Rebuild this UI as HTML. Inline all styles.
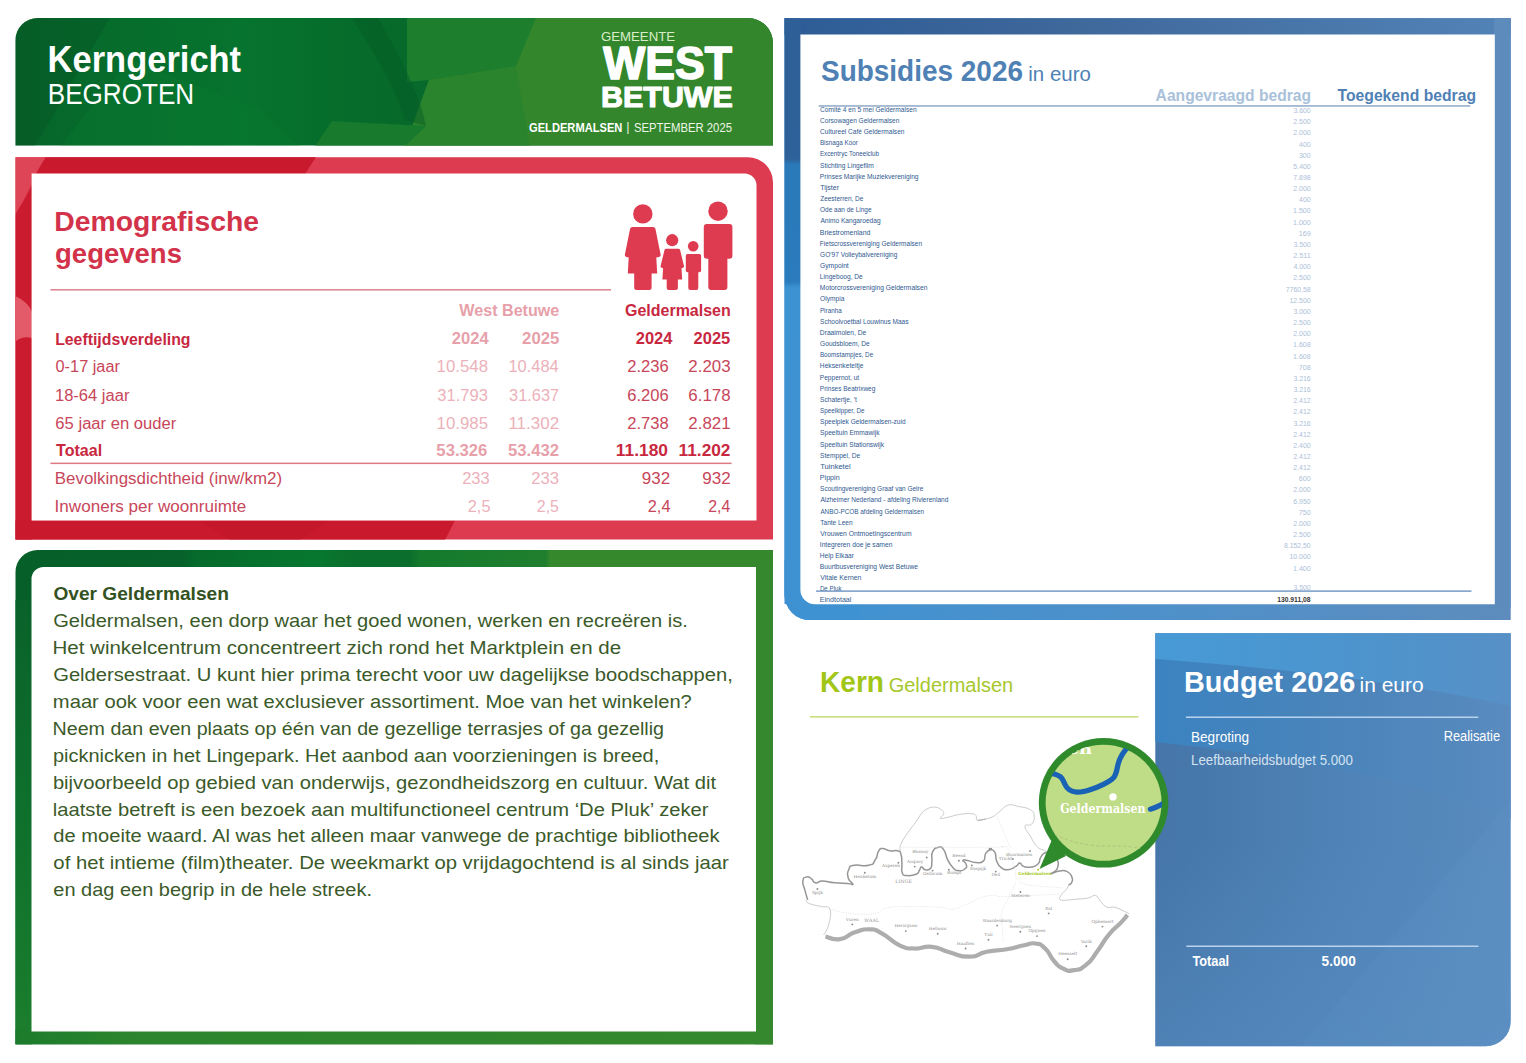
<!DOCTYPE html>
<html lang="nl"><head><meta charset="utf-8"><title>Kerngericht begroten - Geldermalsen</title>
<style>
html,body{margin:0;padding:0;background:#fff;}
body{width:1526px;height:1063px;overflow:hidden;}
svg{display:block;font-family:"Liberation Sans", Arial, sans-serif;}
text{white-space:pre;}
</style></head><body>
<svg width="1526" height="1063" viewBox="0 0 1526 1063">
<defs>
<linearGradient id="gHead" x1="0" y1="0" x2="1" y2="0">
 <stop offset="0" stop-color="#076429"/><stop offset="0.1" stop-color="#066b2c"/><stop offset="0.3" stop-color="#06732e"/><stop offset="0.45" stop-color="#066c2b"/><stop offset="0.52" stop-color="#07692b"/><stop offset="1" stop-color="#07692b"/>
</linearGradient>
<linearGradient id="gGreen2" x1="0" y1="0" x2="1" y2="0">
 <stop offset="0" stop-color="#065f28"/><stop offset="0.22" stop-color="#06622a"/><stop offset="0.24" stop-color="#066b2c"/><stop offset="0.4" stop-color="#07772f"/><stop offset="0.45" stop-color="#0a6e2c"/><stop offset="0.52" stop-color="#0b6e2c"/><stop offset="0.535" stop-color="#157a2d"/><stop offset="0.70" stop-color="#1f7f2e"/><stop offset="0.706" stop-color="#36882d"/><stop offset="1" stop-color="#36882d"/>
</linearGradient>
<linearGradient id="gGreenL" x1="0" y1="0" x2="0" y2="1">
 <stop offset="0" stop-color="#09622a"/><stop offset="0.5" stop-color="#0f702c"/><stop offset="1" stop-color="#1c7e2d"/>
</linearGradient>
<linearGradient id="gGreenB" x1="0" y1="0" x2="1" y2="0">
 <stop offset="0" stop-color="#1b7b2c"/><stop offset="0.15" stop-color="#2c852d"/><stop offset="1" stop-color="#35882d"/>
</linearGradient>
<linearGradient id="gBlueT" x1="0" y1="0" x2="1" y2="0">
 <stop offset="0" stop-color="#2d5c96"/><stop offset="0.4" stop-color="#3f689b"/><stop offset="1" stop-color="#5283b7"/>
</linearGradient>
<linearGradient id="gBlueL" x1="0" y1="0" x2="0" y2="1">
 <stop offset="0" stop-color="#2f5f97"/><stop offset="0.24" stop-color="#2e6199"/><stop offset="0.25" stop-color="#2a79b9"/><stop offset="0.45" stop-color="#2b7cbc"/><stop offset="0.46" stop-color="#3d92d2"/><stop offset="1" stop-color="#3f92d2"/>
</linearGradient>
<linearGradient id="gBlueB" x1="0" y1="0" x2="1" y2="0">
 <stop offset="0" stop-color="#3f92d2"/><stop offset="0.55" stop-color="#4f90c9"/><stop offset="1" stop-color="#5d8cbd"/>
</linearGradient>
<linearGradient id="gBud" x1="0" y1="0" x2="1" y2="0">
 <stop offset="0" stop-color="#4575a9"/><stop offset="0.5" stop-color="#4f82b6"/><stop offset="1" stop-color="#598bbf"/>
</linearGradient>
<linearGradient id="gBudV" x1="0" y1="0" x2="0" y2="1">
 <stop offset="0" stop-color="#5a90c4" stop-opacity="0"/><stop offset="0.5" stop-color="#5a90c4" stop-opacity="0"/><stop offset="1" stop-color="#5a90c4" stop-opacity=".45"/>
</linearGradient>
<linearGradient id="gBud1" x1="0" y1="0" x2="1" y2="0">
 <stop offset="0" stop-color="#479ad6"/><stop offset="0.5" stop-color="#4c95cf"/><stop offset="1" stop-color="#5790c6"/>
</linearGradient>
<linearGradient id="gBud2" x1="0" y1="0" x2="1" y2="0">
 <stop offset="0" stop-color="#3b83c1"/><stop offset="0.5" stop-color="#4a84ba"/><stop offset="1" stop-color="#598bbf"/>
</linearGradient>
<clipPath id="cHead"><path d="M15.5 145.5V40a22 22 0 0 1 22-22H748a25 25 0 0 1 25 25V145.5Z"/></clipPath>
<clipPath id="cRed"><path d="M15.5 157.3H748a25 25 0 0 1 25 25V539.5H15.5Z"/></clipPath>
<clipPath id="cMag"><circle cx="1103.6" cy="802.8" r="58.5"/></clipPath>
<clipPath id="cBud"><path d="M1155.3 633.3H1510.7V1021a25 25 0 0 1 -25 25.3H1155.3Z"/></clipPath>
</defs>
<g clip-path="url(#cHead)">
<rect x="15" y="18" width="759" height="128" fill="url(#gHead)"/>
<polygon points="15,18 110,18 35,146 15,146" fill="#054f23" opacity=".35"/>
<polygon points="60,146 130,60 260,110 300,146" fill="#0c7a32" opacity=".35"/>
<polygon points="407,18 540,18 516,66 429,80 407,82" fill="#1d7e2e"/>
<polygon points="536,18 773,18 773,146 405,146 429,80 516,66" fill="#34862c"/>
<polygon points="429,80 516,66 530,146 405,146" fill="#2a842d"/>
<polygon points="315,146 332,121 426,126 405,146" fill="#177a2c"/>
<path d="M352 18C372 50 398 90 404 120L426 126C420 92 396 50 378 18Z" fill="#045a26" opacity=".45"/>
</g>
<text x="47.59" y="71.5" font-size="37.06" fill="#fff" font-weight="700" textLength="193.53" lengthAdjust="spacingAndGlyphs">Kerngericht</text>
<text x="47.76" y="104.4" font-size="28.63" fill="#fff" textLength="146.37" lengthAdjust="spacingAndGlyphs">BEGROTEN</text>
<text x="601.04" y="41.0" font-size="12.79" fill="#d9edc9" textLength="74.03" lengthAdjust="spacingAndGlyphs">GEMEENTE</text>
<text x="603.36" y="79.3" font-size="45.93" fill="#fff" font-weight="700" textLength="128.52" lengthAdjust="spacingAndGlyphs" stroke="#fff" stroke-width="1.6" stroke-linejoin="round">WEST</text>
<text x="601.06" y="106.8" font-size="29.51" fill="#fff" font-weight="700" textLength="131.82" lengthAdjust="spacingAndGlyphs" stroke="#fff" stroke-width="1.1" stroke-linejoin="round">BETUWE</text>
<text x="529.04" y="131.6" font-size="12.65" fill="#fff" font-weight="700" textLength="93.31" lengthAdjust="spacingAndGlyphs">GELDERMALSEN</text>
<text x="626.30" y="131.4" font-size="12.65" fill="#e8f3e0">|</text>
<text x="633.99" y="131.6" font-size="12.65" fill="#eef6e8" textLength="97.99" lengthAdjust="spacingAndGlyphs">SEPTEMBER 2025</text>
<g clip-path="url(#cRed)">
<rect x="15" y="157" width="759" height="383" fill="#dc3b50"/>
<polygon points="44,157 316,157 305,174 31,174" fill="#c9192d"/>
<path d="M15 157H46C36 172 30 185 24 200L15 215Z" fill="#de4557"/>
<polygon points="15,215 24,200 32,185 32,540 15,540" fill="#cb1b2f"/>
<path d="M15 296C24 300 30 306 32 312V338C26 336 19 338 15 342Z" fill="#e35a68"/>
<polygon points="15,520.6 455,520.6 445,540 15,540" fill="#c9192d"/>
<polygon points="200,520.6 330,520.6 300,540 230,540" fill="#c21528" opacity=".6"/>
</g>
<path d="M31.6 173.6H744.5a12 12 0 0 1 12 12V520.6H31.6Z" fill="#fff"/>
<text x="54.30" y="230.6" font-size="28.34" fill="#d2334a" font-weight="700" textLength="204.66" lengthAdjust="spacingAndGlyphs">Demografische</text>
<text x="55.07" y="263.0" font-size="28.34" fill="#d2334a" font-weight="700" textLength="126.86" lengthAdjust="spacingAndGlyphs">gegevens</text>
<rect x="50.4" y="289" width="560.6" height="1.6" fill="#dd8a94"/>
<g fill="#de3a50">
<circle cx="642.8" cy="213.9" r="9.7"/>
<path d="M632.5 226.9H653a2.5 2.5 0 0 1 2.4 1.8L660.6 254.5a2 2 0 0 1 -1.5 2.4L656.3 257.6 657.2 273.5H651.6V287.5a2.5 2.5 0 0 1 -2.5 2.5H636.7a2.5 2.5 0 0 1 -2.5 -2.5V273.5H627.8L628.7 257.6 626.4 256.9a2 2 0 0 1 -1.5 -2.4L630.1 228.7a2.5 2.5 0 0 1 2.4 -1.8Z"/>
<circle cx="672.2" cy="240.2" r="6.1"/>
<path d="M666.2 248.7H678.4a1.8 1.8 0 0 1 1.7 1.3L684 266a1.5 1.5 0 0 1 -1 1.8L681.5 268.2 682.2 279.4H677.9V288a2 2 0 0 1 -2 2H668.7a2 2 0 0 1 -2 -2V279.4H662.4L663.1 268.2 661.6 267.8a1.5 1.5 0 0 1 -1 -1.8L664.5 250a1.8 1.8 0 0 1 1.7 -1.3Z"/>
<circle cx="693.2" cy="246.3" r="5.3"/>
<path d="M687.6 254H699.3a1.8 1.8 0 0 1 1.8 1.8V270.5a1.8 1.8 0 0 1 -1.8 1.8H698.3V288a2 2 0 0 1 -2 2H690.3a2 2 0 0 1 -2 -2V272.3H687.6a1.8 1.8 0 0 1 -1.8 -1.8V255.8a1.8 1.8 0 0 1 1.8 -1.8Z"/>
<circle cx="718" cy="211.2" r="9.7"/>
<path d="M706.8 223.9H729.4a3 3 0 0 1 3 3V255.7a3 3 0 0 1 -3 3H727.4V287a3 3 0 0 1 -3 3H711.3a3 3 0 0 1 -3 -3V258.7H706.8a3 3 0 0 1 -3 -3V226.9a3 3 0 0 1 3 -3Z"/>
</g>
<text x="459.28" y="316.2" font-size="16.28" fill="#e79fa9" font-weight="700" textLength="100.07" lengthAdjust="spacingAndGlyphs">West Betuwe</text>
<text x="624.94" y="316.2" font-size="16.28" fill="#c8283f" font-weight="700" textLength="105.85" lengthAdjust="spacingAndGlyphs">Geldermalsen</text>
<text x="55.14" y="344.5" font-size="16.28" fill="#c8283f" font-weight="700" textLength="135.42" lengthAdjust="spacingAndGlyphs">Leeftijdsverdeling</text>
<text x="451.83" y="344.2" font-size="16.28" fill="#e79fa9" font-weight="700" textLength="36.76" lengthAdjust="spacingAndGlyphs">2024</text>
<text x="522.12" y="344.2" font-size="16.28" fill="#e79fa9" font-weight="700" textLength="37.14" lengthAdjust="spacingAndGlyphs">2025</text>
<text x="635.73" y="344.2" font-size="16.28" fill="#c8283f" font-weight="700" textLength="36.66" lengthAdjust="spacingAndGlyphs">2024</text>
<text x="693.63" y="344.2" font-size="16.28" fill="#c8283f" font-weight="700" textLength="36.63" lengthAdjust="spacingAndGlyphs">2025</text>
<text x="55.56" y="372.4" font-size="15.84" fill="#c8465a" textLength="64.41" lengthAdjust="spacingAndGlyphs">0-17 jaar</text>
<text x="436.62" y="372.4" font-size="15.84" fill="#ecb1ba" textLength="51.41" lengthAdjust="spacingAndGlyphs">10.548</text>
<text x="508.45" y="372.4" font-size="15.84" fill="#ecb1ba" textLength="50.34" lengthAdjust="spacingAndGlyphs">10.484</text>
<text x="627.27" y="372.4" font-size="15.84" fill="#c8465a" textLength="41.46" lengthAdjust="spacingAndGlyphs">2.236</text>
<text x="688.35" y="372.4" font-size="15.84" fill="#c8465a" textLength="42.19" lengthAdjust="spacingAndGlyphs">2.203</text>
<text x="54.94" y="400.5" font-size="15.84" fill="#c8465a" textLength="74.54" lengthAdjust="spacingAndGlyphs">18-64 jaar</text>
<text x="437.27" y="400.5" font-size="15.84" fill="#ecb1ba" textLength="50.76" lengthAdjust="spacingAndGlyphs">31.793</text>
<text x="509.08" y="400.5" font-size="15.84" fill="#ecb1ba" textLength="50.05" lengthAdjust="spacingAndGlyphs">31.637</text>
<text x="627.26" y="400.5" font-size="15.84" fill="#c8465a" textLength="41.47" lengthAdjust="spacingAndGlyphs">6.206</text>
<text x="688.34" y="400.5" font-size="15.84" fill="#c8465a" textLength="42.19" lengthAdjust="spacingAndGlyphs">6.178</text>
<text x="55.36" y="428.6" font-size="15.84" fill="#c8465a" textLength="120.92" lengthAdjust="spacingAndGlyphs">65 jaar en ouder</text>
<text x="436.62" y="428.6" font-size="15.84" fill="#ecb1ba" textLength="51.39" lengthAdjust="spacingAndGlyphs">10.985</text>
<text x="508.44" y="428.6" font-size="15.84" fill="#ecb1ba" textLength="50.70" lengthAdjust="spacingAndGlyphs">11.302</text>
<text x="627.27" y="428.6" font-size="15.84" fill="#c8465a" textLength="41.45" lengthAdjust="spacingAndGlyphs">2.738</text>
<text x="688.35" y="428.6" font-size="15.84" fill="#c8465a" textLength="42.27" lengthAdjust="spacingAndGlyphs">2.821</text>
<text x="56.02" y="456.2" font-size="16.28" fill="#c8283f" font-weight="700" textLength="46.08" lengthAdjust="spacingAndGlyphs">Totaal</text>
<text x="436.39" y="456.2" font-size="16.28" fill="#e79fa9" font-weight="700" textLength="51.02" lengthAdjust="spacingAndGlyphs">53.326</text>
<text x="507.99" y="456.2" font-size="16.28" fill="#e79fa9" font-weight="700" textLength="50.98" lengthAdjust="spacingAndGlyphs">53.432</text>
<text x="615.83" y="456.2" font-size="16.28" fill="#c8283f" font-weight="700" textLength="52.17" lengthAdjust="spacingAndGlyphs">11.180</text>
<text x="678.63" y="456.2" font-size="16.28" fill="#c8283f" font-weight="700" textLength="51.85" lengthAdjust="spacingAndGlyphs">11.202</text>
<text x="54.81" y="484.0" font-size="15.84" fill="#c8465a" textLength="227.33" lengthAdjust="spacingAndGlyphs">Bevolkingsdichtheid (inw/km2)</text>
<text x="462.17" y="484.0" font-size="15.84" fill="#ecb1ba" textLength="27.56" lengthAdjust="spacingAndGlyphs">233</text>
<text x="531.16" y="484.0" font-size="15.84" fill="#ecb1ba" textLength="27.87" lengthAdjust="spacingAndGlyphs">233</text>
<text x="641.80" y="484.0" font-size="15.84" fill="#c8465a" textLength="28.35" lengthAdjust="spacingAndGlyphs">932</text>
<text x="702.20" y="484.0" font-size="15.84" fill="#c8465a" textLength="28.46" lengthAdjust="spacingAndGlyphs">932</text>
<text x="54.63" y="512.0" font-size="15.84" fill="#c8465a" textLength="191.53" lengthAdjust="spacingAndGlyphs">Inwoners per woonruimte</text>
<text x="467.78" y="512.0" font-size="15.84" fill="#ecb1ba" textLength="22.71" lengthAdjust="spacingAndGlyphs">2,5</text>
<text x="536.80" y="512.0" font-size="15.84" fill="#ecb1ba" textLength="22.17" lengthAdjust="spacingAndGlyphs">2,5</text>
<text x="647.78" y="512.0" font-size="15.84" fill="#c8465a" textLength="22.70" lengthAdjust="spacingAndGlyphs">2,4</text>
<text x="708.20" y="512.0" font-size="15.84" fill="#c8465a" textLength="22.06" lengthAdjust="spacingAndGlyphs">2,4</text>
<rect x="50.4" y="462.6" width="681.2" height="1.5" fill="#dd7a86"/>
<path d="M15.5 1044.3V572a22 22 0 0 1 22 -22H773V1044.3Z" fill="url(#gGreen2)"/>
<rect x="15.5" y="600" width="16.5" height="444.3" fill="url(#gGreenL)"/>
<rect x="15.5" y="1030" width="757.5" height="14.3" fill="url(#gGreenB)"/>
<rect x="755" y="566" width="18" height="478.3" fill="#35882d"/>
<path d="M31.5 1031.5V579a12 12 0 0 1 12 -12H756V1031.5Z" fill="#fff"/>
<text x="53.42" y="600.3" font-size="18.02" fill="#33521f" font-weight="700" textLength="175.47" lengthAdjust="spacingAndGlyphs">Over Geldermalsen</text>
<text x="53.19" y="627.4" font-size="18.02" fill="#3b5a2a" textLength="634.65" lengthAdjust="spacingAndGlyphs">Geldermalsen, een dorp waar het goed wonen, werken en recreëren is.</text>
<text x="52.52" y="654.3" font-size="18.02" fill="#3b5a2a" textLength="568.59" lengthAdjust="spacingAndGlyphs">Het winkelcentrum concentreert zich rond het Marktplein en de</text>
<text x="53.19" y="681.2" font-size="18.02" fill="#3b5a2a" textLength="679.63" lengthAdjust="spacingAndGlyphs">Geldersestraat. U kunt hier prima terecht voor uw dagelijkse boodschappen,</text>
<text x="52.86" y="708.0" font-size="18.02" fill="#3b5a2a" textLength="638.99" lengthAdjust="spacingAndGlyphs">maar ook voor een wat exclusiever assortiment. Moe van het winkelen?</text>
<text x="52.59" y="734.9" font-size="18.02" fill="#3b5a2a" textLength="611.38" lengthAdjust="spacingAndGlyphs">Neem dan even plaats op één van de gezellige terrasjes of ga gezellig</text>
<text x="52.91" y="761.8" font-size="18.02" fill="#3b5a2a" textLength="606.38" lengthAdjust="spacingAndGlyphs">picknicken in het Lingepark. Het aanbod aan voorzieningen is breed,</text>
<text x="52.90" y="788.7" font-size="18.02" fill="#3b5a2a" textLength="663.24" lengthAdjust="spacingAndGlyphs">bijvoorbeeld op gebied van onderwijs, gezondheidszorg en cultuur. Wat dit</text>
<text x="52.84" y="815.6" font-size="18.02" fill="#3b5a2a" textLength="655.69" lengthAdjust="spacingAndGlyphs">laatste betreft is een bezoek aan multifunctioneel centrum ‘De Pluk’ zeker</text>
<text x="53.36" y="842.4" font-size="18.02" fill="#3b5a2a" textLength="666.21" lengthAdjust="spacingAndGlyphs">de moeite waard. Al was het alleen maar vanwege de prachtige bibliotheek</text>
<text x="53.35" y="869.3" font-size="18.02" fill="#3b5a2a" textLength="675.39" lengthAdjust="spacingAndGlyphs">of het intieme (film)theater. De weekmarkt op vrijdagochtend is al sinds jaar</text>
<text x="53.35" y="896.2" font-size="18.02" fill="#3b5a2a" textLength="318.67" lengthAdjust="spacingAndGlyphs">en dag een begrip in de hele streek.</text>
<path d="M784.5 18.2H1510.7V620.1H810a25.5 25.5 0 0 1 -25.5 -25.5Z" fill="url(#gBlueB)"/>
<rect x="784.5" y="18.2" width="726.2" height="17" fill="url(#gBlueT)"/>
<path d="M784.5 18.2H801V604H784.5Z" fill="url(#gBlueL)"/>
<path d="M784.5 560V594.6a25.5 25.5 0 0 0 25.5 25.5H860V600H801V560Z" fill="#3f92d2"/>
<rect x="1494" y="18.2" width="16.7" height="590" fill="#5d8bbb"/>
<path d="M800.4 34.4H1494.8V604.3H815a14.6 14.6 0 0 1 -14.6 -14.6Z" fill="#fff"/>
<text x="820.99" y="80.5" font-size="29.07" fill="#4f81b5" font-weight="700" textLength="202.02" lengthAdjust="spacingAndGlyphs">Subsidies 2026</text>
<text x="1028.33" y="80.5" font-size="19.60" fill="#4f81b5" textLength="62.53" lengthAdjust="spacingAndGlyphs">in euro</text>
<text x="1155.61" y="100.7" font-size="15.84" fill="#a9c1da" font-weight="700" textLength="155.43" lengthAdjust="spacingAndGlyphs">Aangevraagd bedrag</text>
<text x="1337.53" y="100.7" font-size="15.84" fill="#4f81b5" font-weight="700" textLength="138.52" lengthAdjust="spacingAndGlyphs">Toegekend bedrag</text>
<rect x="818.6" y="105.2" width="651.7" height="1.5" fill="#8ea9c7"/>
<text x="820.06" y="111.7" font-size="6.60" fill="#2f598f" textLength="96.56" lengthAdjust="spacingAndGlyphs">Comité 4 en 5 mei Geldermalsen</text>
<text x="1293.40" y="113.0" font-size="6.70" fill="#abc0d9" textLength="17.27" lengthAdjust="spacingAndGlyphs">3.600</text>
<text x="820.07" y="122.9" font-size="6.60" fill="#2f598f" textLength="79.26" lengthAdjust="spacingAndGlyphs">Corsowagen Geldermalsen</text>
<text x="1293.31" y="124.2" font-size="6.70" fill="#abc0d9" textLength="17.36" lengthAdjust="spacingAndGlyphs">2.500</text>
<text x="820.07" y="134.0" font-size="6.60" fill="#2f598f" textLength="84.36" lengthAdjust="spacingAndGlyphs">Cultureel Café Geldermalsen</text>
<text x="1293.31" y="135.3" font-size="6.70" fill="#abc0d9" textLength="17.36" lengthAdjust="spacingAndGlyphs">2.000</text>
<text x="819.88" y="145.2" font-size="6.60" fill="#2f598f" textLength="38.02" lengthAdjust="spacingAndGlyphs">Bisnaga Koor</text>
<text x="1299.08" y="146.5" font-size="6.70" fill="#abc0d9" textLength="11.59" lengthAdjust="spacingAndGlyphs">400</text>
<text x="819.89" y="156.3" font-size="6.60" fill="#2f598f" textLength="59.17" lengthAdjust="spacingAndGlyphs">Excentryc Toneelclub</text>
<text x="1298.97" y="157.6" font-size="6.70" fill="#abc0d9" textLength="11.70" lengthAdjust="spacingAndGlyphs">300</text>
<text x="820.10" y="167.5" font-size="6.60" fill="#2f598f" textLength="53.64" lengthAdjust="spacingAndGlyphs">Stichting Lingefilm</text>
<text x="1293.38" y="168.8" font-size="6.70" fill="#abc0d9" textLength="17.29" lengthAdjust="spacingAndGlyphs">5.400</text>
<text x="819.86" y="178.7" font-size="6.60" fill="#2f598f" textLength="98.67" lengthAdjust="spacingAndGlyphs">Prinses Marijke Muziekvereniging</text>
<text x="1293.30" y="180.0" font-size="6.70" fill="#abc0d9" textLength="17.40" lengthAdjust="spacingAndGlyphs">7.898</text>
<text x="820.25" y="189.8" font-size="6.60" fill="#2f598f" textLength="18.77" lengthAdjust="spacingAndGlyphs">Tijster</text>
<text x="1293.31" y="191.1" font-size="6.70" fill="#abc0d9" textLength="17.36" lengthAdjust="spacingAndGlyphs">2.000</text>
<text x="820.19" y="201.0" font-size="6.60" fill="#2f598f" textLength="43.19" lengthAdjust="spacingAndGlyphs">Zeesterren, De</text>
<text x="1299.08" y="202.3" font-size="6.70" fill="#abc0d9" textLength="11.59" lengthAdjust="spacingAndGlyphs">400</text>
<text x="820.09" y="212.1" font-size="6.60" fill="#2f598f" textLength="51.49" lengthAdjust="spacingAndGlyphs">Ode aan de Linge</text>
<text x="1293.13" y="213.4" font-size="6.70" fill="#abc0d9" textLength="17.55" lengthAdjust="spacingAndGlyphs">1.500</text>
<text x="820.39" y="223.3" font-size="6.60" fill="#2f598f" textLength="60.24" lengthAdjust="spacingAndGlyphs">Animo Kangaroedag</text>
<text x="1293.13" y="224.6" font-size="6.70" fill="#abc0d9" textLength="17.55" lengthAdjust="spacingAndGlyphs">1.000</text>
<text x="819.83" y="234.5" font-size="6.60" fill="#2f598f" textLength="50.62" lengthAdjust="spacingAndGlyphs">Briestromenland</text>
<text x="1298.69" y="235.8" font-size="6.70" fill="#abc0d9" textLength="12.05" lengthAdjust="spacingAndGlyphs">169</text>
<text x="819.86" y="245.6" font-size="6.60" fill="#2f598f" textLength="102.26" lengthAdjust="spacingAndGlyphs">Fietscrossvereniging Geldermalsen</text>
<text x="1293.40" y="246.9" font-size="6.70" fill="#abc0d9" textLength="17.27" lengthAdjust="spacingAndGlyphs">3.500</text>
<text x="820.07" y="256.8" font-size="6.60" fill="#2f598f" textLength="77.25" lengthAdjust="spacingAndGlyphs">GO'97 Volleybalvereniging</text>
<text x="1293.31" y="258.1" font-size="6.70" fill="#abc0d9" textLength="17.43" lengthAdjust="spacingAndGlyphs">2.511</text>
<text x="820.06" y="267.9" font-size="6.60" fill="#2f598f" textLength="28.69" lengthAdjust="spacingAndGlyphs">Gympoint</text>
<text x="1293.50" y="269.2" font-size="6.70" fill="#abc0d9" textLength="17.17" lengthAdjust="spacingAndGlyphs">4.000</text>
<text x="819.86" y="279.1" font-size="6.60" fill="#2f598f" textLength="42.93" lengthAdjust="spacingAndGlyphs">Lingeboog, De</text>
<text x="1293.31" y="280.4" font-size="6.70" fill="#abc0d9" textLength="17.36" lengthAdjust="spacingAndGlyphs">2.500</text>
<text x="819.85" y="290.3" font-size="6.60" fill="#2f598f" textLength="107.58" lengthAdjust="spacingAndGlyphs">Motorcrossvereniging Geldermalsen</text>
<text x="1285.87" y="291.6" font-size="6.70" fill="#abc0d9" textLength="24.83" lengthAdjust="spacingAndGlyphs">7760,58</text>
<text x="820.09" y="301.4" font-size="6.60" fill="#2f598f" textLength="24.31" lengthAdjust="spacingAndGlyphs">Olympia</text>
<text x="1289.41" y="302.7" font-size="6.70" fill="#abc0d9" textLength="21.26" lengthAdjust="spacingAndGlyphs">12.500</text>
<text x="819.88" y="312.6" font-size="6.60" fill="#2f598f" textLength="21.92" lengthAdjust="spacingAndGlyphs">Piranha</text>
<text x="1293.40" y="313.9" font-size="6.70" fill="#abc0d9" textLength="17.27" lengthAdjust="spacingAndGlyphs">3.000</text>
<text x="820.10" y="323.7" font-size="6.60" fill="#2f598f" textLength="88.43" lengthAdjust="spacingAndGlyphs">Schoolvoetbal Louwinus Maas</text>
<text x="1293.31" y="325.0" font-size="6.70" fill="#abc0d9" textLength="17.36" lengthAdjust="spacingAndGlyphs">2.500</text>
<text x="819.85" y="334.9" font-size="6.60" fill="#2f598f" textLength="46.45" lengthAdjust="spacingAndGlyphs">Draaimolen, De</text>
<text x="1293.31" y="336.2" font-size="6.70" fill="#abc0d9" textLength="17.36" lengthAdjust="spacingAndGlyphs">2.000</text>
<text x="820.07" y="346.1" font-size="6.60" fill="#2f598f" textLength="49.63" lengthAdjust="spacingAndGlyphs">Goudsbloem, De</text>
<text x="1293.12" y="347.4" font-size="6.70" fill="#abc0d9" textLength="17.58" lengthAdjust="spacingAndGlyphs">1.608</text>
<text x="819.88" y="357.2" font-size="6.60" fill="#2f598f" textLength="53.30" lengthAdjust="spacingAndGlyphs">Boomstampjes, De</text>
<text x="1293.12" y="358.5" font-size="6.70" fill="#abc0d9" textLength="17.58" lengthAdjust="spacingAndGlyphs">1.608</text>
<text x="819.86" y="368.4" font-size="6.60" fill="#2f598f" textLength="43.54" lengthAdjust="spacingAndGlyphs">Heksenketeltje</text>
<text x="1298.88" y="369.7" font-size="6.70" fill="#abc0d9" textLength="11.83" lengthAdjust="spacingAndGlyphs">708</text>
<text x="819.86" y="379.5" font-size="6.60" fill="#2f598f" textLength="39.28" lengthAdjust="spacingAndGlyphs">Peppernot, ut</text>
<text x="1293.40" y="380.8" font-size="6.70" fill="#abc0d9" textLength="17.31" lengthAdjust="spacingAndGlyphs">3.216</text>
<text x="819.87" y="390.7" font-size="6.60" fill="#2f598f" textLength="55.45" lengthAdjust="spacingAndGlyphs">Prinses Beatrixweg</text>
<text x="1293.40" y="392.0" font-size="6.70" fill="#abc0d9" textLength="17.31" lengthAdjust="spacingAndGlyphs">3.216</text>
<text x="820.10" y="401.9" font-size="6.60" fill="#2f598f" textLength="36.75" lengthAdjust="spacingAndGlyphs">Schatertje, 't</text>
<text x="1293.31" y="403.2" font-size="6.70" fill="#abc0d9" textLength="17.44" lengthAdjust="spacingAndGlyphs">2.412</text>
<text x="820.12" y="413.0" font-size="6.60" fill="#2f598f" textLength="44.36" lengthAdjust="spacingAndGlyphs">Speelkipper, De</text>
<text x="1293.31" y="414.3" font-size="6.70" fill="#abc0d9" textLength="17.44" lengthAdjust="spacingAndGlyphs">2.412</text>
<text x="820.10" y="424.2" font-size="6.60" fill="#2f598f" textLength="85.52" lengthAdjust="spacingAndGlyphs">Speelplek Geldermalsen-zuid</text>
<text x="1293.40" y="425.5" font-size="6.70" fill="#abc0d9" textLength="17.31" lengthAdjust="spacingAndGlyphs">3.216</text>
<text x="820.10" y="435.3" font-size="6.60" fill="#2f598f" textLength="59.39" lengthAdjust="spacingAndGlyphs">Speeltuin Emmawijk</text>
<text x="1293.31" y="436.6" font-size="6.70" fill="#abc0d9" textLength="17.44" lengthAdjust="spacingAndGlyphs">2.412</text>
<text x="820.10" y="446.5" font-size="6.60" fill="#2f598f" textLength="63.99" lengthAdjust="spacingAndGlyphs">Speeltuin Stationswijk</text>
<text x="1293.31" y="447.8" font-size="6.70" fill="#abc0d9" textLength="17.36" lengthAdjust="spacingAndGlyphs">2.400</text>
<text x="820.10" y="457.7" font-size="6.60" fill="#2f598f" textLength="39.99" lengthAdjust="spacingAndGlyphs">Stemppel, De</text>
<text x="1293.31" y="459.0" font-size="6.70" fill="#abc0d9" textLength="17.44" lengthAdjust="spacingAndGlyphs">2.412</text>
<text x="820.23" y="468.8" font-size="6.60" fill="#2f598f" textLength="30.37" lengthAdjust="spacingAndGlyphs">Tuinketel</text>
<text x="1293.31" y="470.1" font-size="6.70" fill="#abc0d9" textLength="17.44" lengthAdjust="spacingAndGlyphs">2.412</text>
<text x="819.81" y="480.0" font-size="6.60" fill="#2f598f" textLength="19.85" lengthAdjust="spacingAndGlyphs">Pippin</text>
<text x="1298.88" y="481.3" font-size="6.70" fill="#abc0d9" textLength="11.80" lengthAdjust="spacingAndGlyphs">600</text>
<text x="820.11" y="491.1" font-size="6.60" fill="#2f598f" textLength="103.18" lengthAdjust="spacingAndGlyphs">Scoutingvereniging Graaf van Gelre</text>
<text x="1293.31" y="492.4" font-size="6.70" fill="#abc0d9" textLength="17.36" lengthAdjust="spacingAndGlyphs">2.000</text>
<text x="820.39" y="502.3" font-size="6.60" fill="#2f598f" textLength="127.93" lengthAdjust="spacingAndGlyphs">Alzheimer Nederland - afdeling Rivierenland</text>
<text x="1293.31" y="503.6" font-size="6.70" fill="#abc0d9" textLength="17.36" lengthAdjust="spacingAndGlyphs">6.950</text>
<text x="820.39" y="513.5" font-size="6.60" fill="#2f598f" textLength="103.63" lengthAdjust="spacingAndGlyphs">ANBO-PCOB afdeling Geldermalsen</text>
<text x="1298.88" y="514.8" font-size="6.70" fill="#abc0d9" textLength="11.80" lengthAdjust="spacingAndGlyphs">750</text>
<text x="820.26" y="524.6" font-size="6.60" fill="#2f598f" textLength="32.26" lengthAdjust="spacingAndGlyphs">Tante Leen</text>
<text x="1293.31" y="525.9" font-size="6.70" fill="#abc0d9" textLength="17.36" lengthAdjust="spacingAndGlyphs">2.000</text>
<text x="820.37" y="535.8" font-size="6.60" fill="#2f598f" textLength="91.17" lengthAdjust="spacingAndGlyphs">Vrouwen Ontmoetingscentrum</text>
<text x="1293.31" y="537.1" font-size="6.70" fill="#abc0d9" textLength="17.36" lengthAdjust="spacingAndGlyphs">2.500</text>
<text x="819.78" y="546.9" font-size="6.60" fill="#2f598f" textLength="72.65" lengthAdjust="spacingAndGlyphs">Integreren doe je samen</text>
<text x="1284.06" y="548.2" font-size="6.70" fill="#abc0d9" textLength="26.60" lengthAdjust="spacingAndGlyphs">8.152,50</text>
<text x="819.86" y="558.1" font-size="6.60" fill="#2f598f" textLength="34.05" lengthAdjust="spacingAndGlyphs">Help Elkaar</text>
<text x="1289.41" y="559.4" font-size="6.70" fill="#abc0d9" textLength="21.26" lengthAdjust="spacingAndGlyphs">10.000</text>
<text x="819.86" y="569.3" font-size="6.60" fill="#2f598f" textLength="98.04" lengthAdjust="spacingAndGlyphs">Buurtbusvereniging West Betuwe</text>
<text x="1293.13" y="570.6" font-size="6.70" fill="#abc0d9" textLength="17.55" lengthAdjust="spacingAndGlyphs">1.400</text>
<text x="820.37" y="580.4" font-size="6.60" fill="#2f598f" textLength="41.07" lengthAdjust="spacingAndGlyphs">Vitale Kernen</text>
<text x="819.89" y="591.0" font-size="6.60" fill="#2f598f" textLength="21.70" lengthAdjust="spacingAndGlyphs">De Pluk</text>
<text x="1293.40" y="589.9" font-size="6.70" fill="#abc0d9" textLength="17.27" lengthAdjust="spacingAndGlyphs">3.500</text>
<text x="819.82" y="602.1" font-size="6.60" fill="#2f598f" textLength="31.56" lengthAdjust="spacingAndGlyphs">Eindtotaal</text>
<text x="1277.28" y="601.8" font-size="6.60" fill="#333" font-weight="700" textLength="33.32" lengthAdjust="spacingAndGlyphs">130.911,08</text>
<rect x="816.1" y="590.4" width="655.4" height="1.4" fill="#6f95c3"/>
<text x="820.02" y="691.9" font-size="29.07" fill="#a2c617" font-weight="700" textLength="63.92" lengthAdjust="spacingAndGlyphs">Kern</text>
<text x="888.69" y="691.9" font-size="19.91" fill="#a6c72c" textLength="124.50" lengthAdjust="spacingAndGlyphs">Geldermalsen</text>
<rect x="810" y="716" width="328.5" height="1.6" fill="#c9de7c"/>
<path d="M807.5 899.3C806.7 896.5 806.3 895.6 804.9 890.1C803.5 884.5 802.3 884.8 802.9 880.8C803.5 876.9 804.3 877.5 806.8 876.9C809.4 876.3 808.9 877.1 811.5 878.9C814.0 880.7 812.1 882.2 815.4 882.8C818.8 883.5 816.9 881.1 822.6 881.1C828.4 881.1 827.0 882.1 834.5 882.8C842.0 883.5 842.1 883.1 847.7 883.5C853.2 883.9 852.7 885.7 852.9 884.1C853.1 882.6 849.5 882.8 848.3 878.2C847.1 873.7 847.2 872.9 849.0 869.0C850.8 865.1 848.3 866.4 854.2 865.3C860.2 864.2 862.4 867.0 868.7 865.3C875.1 863.7 872.4 864.0 875.3 859.8C878.3 855.6 876.4 854.6 878.6 851.2C880.8 847.9 879.2 848.7 882.6 848.6C885.9 848.5 885.3 850.2 889.8 850.8C894.3 851.5 894.3 849.7 897.7 850.8C901.1 851.9 899.7 850.6 901.0 854.5C902.3 858.4 901.5 858.2 901.9 863.7C902.3 869.3 900.8 869.4 902.3 872.9C903.8 876.5 902.8 875.2 906.9 875.6C911.1 876.0 912.4 875.8 916.1 874.3C919.9 872.7 917.8 872.5 919.4 870.3C921.0 868.1 919.6 867.2 921.4 867.0C923.2 866.8 922.6 869.3 925.3 869.7C928.1 870.1 928.6 870.9 930.6 868.3C932.6 865.8 931.3 866.0 931.9 861.1C932.5 856.2 930.6 856.0 932.6 851.9C934.6 847.7 935.2 847.9 938.5 847.3C941.9 846.7 941.0 846.2 943.8 849.9C946.5 853.7 945.0 854.5 947.7 859.8C950.5 865.1 949.8 864.4 953.0 867.7C956.2 870.9 954.7 870.2 958.3 870.6C961.8 871.0 962.5 870.9 964.8 869.0C967.2 867.1 966.8 867.0 966.2 864.4C965.6 861.8 962.5 861.6 962.9 860.4C963.3 859.3 963.7 859.8 967.5 860.4C971.2 861.0 970.6 862.2 975.4 862.4C980.1 862.6 980.1 863.9 983.3 861.1C986.4 858.3 983.5 856.8 985.9 853.2C988.3 849.6 990.1 850.4 991.2 849.2C992.3 848.1 988.4 848.5 989.5 849.2C990.6 850.0 992.6 848.3 994.7 851.9C996.9 855.4 994.7 856.4 996.7 861.1C998.7 865.8 998.0 865.1 1001.3 867.7C1004.7 870.3 1003.6 870.1 1007.9 869.7C1012.3 869.3 1012.3 868.3 1015.8 866.4C1019.4 864.4 1017.4 863.1 1019.8 863.1C1022.1 863.1 1020.2 865.2 1023.7 866.4C1027.3 867.6 1027.3 867.8 1031.6 867.0C1036.0 866.2 1035.4 866.7 1038.2 863.7C1041.0 860.8 1038.5 860.5 1040.8 857.1C1043.2 853.8 1042.5 853.3 1046.1 852.5C1049.7 851.8 1049.3 852.3 1052.7 854.5C1056.0 856.7 1055.7 856.2 1057.3 859.8C1058.9 863.3 1058.5 863.0 1057.9 866.4C1057.4 869.7 1057.3 868.8 1055.3 871.0C1053.3 873.1 1050.2 873.6 1051.4 873.6C1052.6 873.6 1054.5 871.6 1059.3 871.0C1064.0 870.4 1063.4 869.9 1067.2 871.6C1070.9 873.4 1070.4 873.7 1071.8 876.9C1073.2 880.1 1072.6 879.8 1071.8 882.2C1071.0 884.5 1069.9 884.0 1069.1 884.8" fill="none" stroke="#969696" stroke-width="1.5" stroke-linejoin="round" stroke-linecap="round"/>
<path d="M900.3 850.8C900.5 849.2 899.1 848.3 901.0 844.0C902.8 839.6 904.7 837.4 908.2 832.1C911.8 826.9 913.1 825.9 916.1 821.6C919.2 817.3 918.9 816.6 921.4 813.7C923.9 810.8 923.6 810.6 926.7 809.1C929.7 807.6 931.2 807.0 934.6 807.1C937.9 807.3 939.0 808.2 941.1 809.7C943.3 811.3 943.9 811.7 943.8 813.7C943.6 815.7 939.3 817.5 940.5 818.3C941.7 819.1 944.6 817.9 949.0 817.0C953.5 816.1 954.4 815.1 959.6 814.4C964.8 813.6 967.6 813.4 971.4 813.7C975.3 814.0 974.7 814.1 976.0 815.7C977.4 817.2 975.1 819.5 977.4 820.3C979.7 821.1 985.9 819.0 985.9 819.0C986.0 819.0 976.5 820.6 977.6 820.3C978.8 820.0 985.9 819.5 990.8 817.6C995.7 815.8 994.7 815.3 998.7 812.4C1002.7 809.5 1003.3 806.5 1007.9 805.1C1012.5 803.8 1013.2 805.4 1018.4 806.5C1023.7 807.5 1026.6 807.4 1030.3 809.7C1034.0 812.1 1033.9 813.0 1034.2 816.3C1034.6 819.7 1033.8 821.9 1031.6 824.2C1029.5 826.5 1025.3 823.4 1025.0 826.2C1024.7 829.0 1027.5 831.3 1030.3 836.1C1033.1 840.8 1033.5 843.2 1036.9 846.6C1040.3 850.0 1042.5 849.2 1044.8 850.6C1047.1 851.9 1046.3 852.1 1046.8 852.5" fill="none" stroke="#b5b5b5" stroke-width="0.7"/>
<path d="M807.5 899.3C807.4 899.9 805.8 900.7 806.8 901.9C807.9 903.1 808.7 903.5 812.1 904.5C815.5 905.6 817.2 905.4 821.3 906.5C825.5 907.6 828.2 904.9 829.9 909.2C831.6 913.4 830.1 918.9 828.6 924.9C827.2 930.8 824.8 932.5 823.6 934.8" fill="none" stroke="#b5b5b5" stroke-width="0.7"/>
<path d="M1069.1 884.8C1068.5 885.9 1067.3 888.2 1065.8 890.1C1064.4 891.9 1063.0 892.0 1061.9 894.0C1060.8 896.0 1057.9 898.9 1060.6 899.9C1063.2 901.0 1069.5 899.7 1075.1 899.3C1080.6 898.9 1084.2 898.8 1088.2 898.0C1092.3 897.2 1093.1 894.8 1095.5 895.3C1097.8 895.9 1097.8 898.2 1100.1 900.6C1102.3 903.0 1103.8 905.9 1106.7 907.2C1109.6 908.5 1111.1 906.4 1114.6 907.2C1118.0 908.0 1120.9 909.8 1123.8 911.1C1126.7 912.4 1128.0 913.2 1129.0 913.8" fill="none" stroke="#b5b5b5" stroke-width="0.7"/>
<path d="M825.4 936.6C829.7 937.3 831.0 940.3 839.8 939.1C848.6 937.8 845.8 935.2 854.8 932.3C863.7 929.4 861.5 929.0 869.7 929.3C877.9 929.7 873.2 928.8 882.2 933.6C891.1 938.4 889.9 940.8 899.6 945.3C909.3 949.8 904.8 948.1 914.5 948.5C924.2 949.0 921.5 945.7 932.0 946.8C942.4 947.9 938.2 949.3 949.4 952.3C960.6 955.2 958.1 956.9 969.3 956.7C980.5 956.6 975.5 954.0 986.7 951.8C997.9 949.5 995.4 951.2 1006.7 949.3C1017.9 947.3 1015.5 947.0 1024.1 945.3C1032.7 943.6 1028.9 942.6 1035.3 943.5C1041.6 944.5 1039.6 943.3 1045.2 948.5C1050.9 953.7 1048.7 955.0 1054.0 961.0C1059.2 966.9 1056.7 965.7 1062.7 968.4C1068.7 971.2 1066.8 971.3 1073.9 970.2C1081.0 969.1 1079.2 970.5 1086.3 964.7C1093.4 958.9 1090.8 960.0 1097.5 951.0C1104.3 942.0 1101.6 943.4 1108.7 934.8C1115.8 926.2 1115.6 928.3 1121.2 922.4C1126.8 916.4 1125.6 917.1 1127.4 914.9" fill="none" stroke="#adadad" stroke-width="4.2" stroke-linecap="butt"/>
<path d="M830.5 909.2C834.5 910.1 837.5 912.0 847.7 913.1C857.8 914.2 864.8 915.0 874.0 913.8C883.2 912.5 877.9 909.5 887.2 907.8C896.4 906.2 901.2 906.7 913.5 906.5C925.8 906.4 930.6 906.6 939.8 907.2C949.0 907.8 946.9 909.8 953.0 909.2C959.1 908.5 959.4 907.3 966.2 904.5C972.9 901.8 975.2 899.5 982.0 897.3C988.7 895.2 990.5 895.5 995.0 895.3C999.5 895.2 992.2 896.6 1001.3 896.6C1010.5 896.6 1020.4 895.9 1034.2 895.3C1048.1 894.7 1054.4 894.3 1060.6 894.0" fill="none" stroke="#dcdcdc" stroke-width="0.6" stroke-dasharray="1 0.8"/>
<path d="M901.6 847.3C917.2 847.3 978.4 847.4 995.0 847.3C1011.6 847.2 999.2 846.4 1001.3 846.6C1003.5 846.8 1005.7 844.9 1007.9 848.6C1010.1 852.3 1013.0 863.8 1014.5 869.0C1016.0 874.2 1014.9 876.9 1017.1 879.5C1019.3 882.2 1022.6 883.6 1027.7 884.8C1032.7 886.0 1041.5 886.2 1047.4 886.8C1053.3 887.3 1060.6 887.9 1063.2 888.1" fill="none" stroke="#dcdcdc" stroke-width="0.6" stroke-dasharray="1 0.8"/>
<path d="M996.7 816.3C999.0 821.6 1008.2 842.7 1010.5 847.9" fill="none" stroke="#dcdcdc" stroke-width="0.6" stroke-dasharray="1 0.8"/>
<path d="M1015.8 882.2C1014.2 885.6 1010.8 893.0 1007.9 899.3C1005.0 905.6 1002.4 907.6 1001.3 913.8C1000.3 919.9 1002.3 924.3 1002.6 930.0C1003.0 935.7 1002.9 939.8 1002.9 942.3" fill="none" stroke="#dcdcdc" stroke-width="0.6" stroke-dasharray="1 0.8"/>
<g font-family='"DejaVu Serif", "Liberation Serif", serif' font-size="4.3" fill="#909090" text-anchor="middle">
<circle cx="817.4" cy="889.0" r="0.95" fill="#8c8c8c"/><text x="817.4" y="893.6">Spijk</text>
<circle cx="864.8" cy="872.7" r="0.95" fill="#8c8c8c"/><text x="864.8" y="877.7">Heukelum</text>
<circle cx="898.4" cy="862.7" r="0.95" fill="#8c8c8c"/><text x="891.1" y="867.2">Asperen</text>
<circle cx="914.8" cy="866.6" r="0.95" fill="#8c8c8c"/><text x="915.1" y="863.2">Acquoy</text>
<circle cx="926.7" cy="857.5" r="0.95" fill="#8c8c8c"/><text x="920.3" y="853.2">Rhenoy</text>
<circle cx="932.6" cy="870.6" r="0.95" fill="#8c8c8c"/><text x="932.6" y="875.1">Gellicum</text>
<circle cx="948.8" cy="869.8" r="0.95" fill="#8c8c8c"/><text x="954.3" y="874.3">Rumpt</text>
<circle cx="958.9" cy="860.8" r="0.95" fill="#8c8c8c"/><text x="958.9" y="856.9">Beesd</text>
<circle cx="971.8" cy="865.4" r="0.95" fill="#8c8c8c"/><text x="978.0" y="870.4">Enspijk</text>
<circle cx="1012.9" cy="858.9" r="0.95" fill="#8c8c8c"/><text x="1005.3" y="859.5">Tricht</text>
<circle cx="1030.0" cy="851.0" r="0.95" fill="#8c8c8c"/><text x="1019.1" y="855.8">Buurmalsen</text>
<circle cx="995.8" cy="871.6" r="0.95" fill="#8c8c8c"/><text x="995.8" y="876.4">Deil</text>
<circle cx="1020.4" cy="892.0" r="0.95" fill="#8c8c8c"/><text x="1020.4" y="897.0">Meteren</text>
<circle cx="1048.7" cy="913.4" r="0.95" fill="#8c8c8c"/><text x="1048.7" y="909.7">Est</text>
<circle cx="852.3" cy="924.4" r="0.95" fill="#8c8c8c"/><text x="852.3" y="920.9">Vuren</text>
<circle cx="905.8" cy="931.1" r="0.95" fill="#8c8c8c"/><text x="905.8" y="927.4">Herwijnen</text>
<circle cx="937.7" cy="933.8" r="0.95" fill="#8c8c8c"/><text x="937.7" y="929.6">Hellouw</text>
<circle cx="965.6" cy="948.5" r="0.95" fill="#8c8c8c"/><text x="965.6" y="944.5">Haaften</text>
<circle cx="988.5" cy="939.8" r="0.95" fill="#8c8c8c"/><text x="988.5" y="936.3">Tuil</text>
<circle cx="997.2" cy="925.6" r="0.95" fill="#8c8c8c"/><text x="997.2" y="921.6">Waardenburg</text>
<circle cx="1020.3" cy="931.8" r="0.95" fill="#8c8c8c"/><text x="1020.3" y="928.3">Neerijnen</text>
<circle cx="1037.0" cy="936.1" r="0.95" fill="#8c8c8c"/><text x="1037.0" y="932.1">Opijnen</text>
<circle cx="1067.7" cy="959.2" r="0.95" fill="#8c8c8c"/><text x="1067.7" y="955.2">Heesselt</text>
<circle cx="1086.3" cy="946.3" r="0.95" fill="#8c8c8c"/><text x="1086.3" y="942.5">Varik</text>
<circle cx="1102.5" cy="926.6" r="0.95" fill="#8c8c8c"/><text x="1102.5" y="922.9">Ophemert</text>
<text x="903.6" y="882.8" font-size="4.6" letter-spacing=".2">LINGE</text>
<text x="871.7" y="921.9" font-size="4.6" letter-spacing=".2">WAAL</text>
<circle cx="1038.2" cy="869.7" r="0.9" fill="#a2c617"/><text x="1034.9" y="874.5" fill="#a2c617" font-weight="700">Geldermalsen</text>
</g>
<g clip-path="url(#cBud)">
<rect x="1155" y="633" width="356" height="414" fill="url(#gBud)"/>
<rect x="1155" y="633" width="356" height="414" fill="url(#gBudV)"/>
<path d="M1155 659C1330 672 1440 690 1511 706V819C1440 790 1330 760 1155 742Z" fill="url(#gBud2)"/>
<path d="M1155 633H1511V706C1440 690 1330 672 1155 659Z" fill="url(#gBud1)"/>
<path d="M1300 1047L1511 800V1047Z" fill="#6a9aca" opacity=".12"/>
</g>
<text x="1183.97" y="691.8" font-size="29.07" fill="#fff" font-weight="700" textLength="171.27" lengthAdjust="spacingAndGlyphs">Budget 2026</text>
<text x="1359.50" y="691.8" font-size="19.60" fill="#fff" textLength="64.08" lengthAdjust="spacingAndGlyphs">in euro</text>
<rect x="1185.9" y="716.5" width="292.4" height="1.5" fill="#b9d3ee"/>
<text x="1190.99" y="741.7" font-size="13.95" fill="#fff" textLength="58.09" lengthAdjust="spacingAndGlyphs">Begroting</text>
<text x="1443.65" y="741.4" font-size="13.95" fill="#fff" textLength="56.43" lengthAdjust="spacingAndGlyphs">Realisatie</text>
<text x="1191.01" y="764.6" font-size="13.95" fill="#d3e2f1" textLength="161.91" lengthAdjust="spacingAndGlyphs">Leefbaarheidsbudget 5.000</text>
<rect x="1186.3" y="945.5" width="292.1" height="1.5" fill="#b9d3ee"/>
<text x="1192.46" y="965.9" font-size="14.24" fill="#fff" font-weight="700" textLength="36.62" lengthAdjust="spacingAndGlyphs">Totaal</text>
<text x="1321.58" y="965.9" font-size="14.24" fill="#fff" font-weight="700" textLength="34.18" lengthAdjust="spacingAndGlyphs">5.000</text>
<polygon points="1039.5,869 1052.7,838 1066,856" fill="#2f8a2c"/>
<circle cx="1103.6" cy="802.8" r="64.8" fill="#2f8a2c"/>
<circle cx="1103.6" cy="802.8" r="58" fill="#bfdc86"/>
<g clip-path="url(#cMag)">
<path d="M1044 772.5C1052 773 1057.5 774.5 1060.3 776.6C1063 778.8 1063.6 781.5 1065 784.5C1067 789 1070 791.5 1076.6 792.1C1081 792.5 1085 791.3 1089.3 790C1094 788.5 1099 786.5 1103.4 784.3C1107.5 782.3 1111 780.5 1113.3 778C1116 775 1116.7 771 1117.5 766.7C1118.5 762 1119.8 758.5 1121.7 755.4C1124 751.5 1127 748 1131 743" fill="none" stroke="#1a62b5" stroke-width="5.3"/>
<path d="M1150.3 809.2C1155 808 1160 805.5 1167 801.5" fill="none" stroke="#1a62b5" stroke-width="5.2" stroke-linecap="round"/>
<path d="M1050 832C1066 841 1082 845 1100 846C1118 846 1130 845 1150 851" fill="none" stroke="#a9c07e" stroke-width="0.8" stroke-dasharray="3.2 2.2"/>
<text x="1050.5" y="754.2" font-family='"DejaVu Serif Condensed", "DejaVu Serif", "Liberation Serif", serif' font-weight="700" font-size="13.4" fill="#fff" textLength="41.7" lengthAdjust="spacingAndGlyphs">lsen</text>
</g>
<circle cx="1113" cy="796.9" r="3.7" fill="#fff"/>
<text x="1060.14" y="812.6" font-size="12.20" fill="#fff" font-weight="700" font-family='"DejaVu Serif Condensed", "DejaVu Serif", "Liberation Serif", serif' textLength="85.31" lengthAdjust="spacingAndGlyphs">Geldermalsen</text>
</svg>
</body></html>
